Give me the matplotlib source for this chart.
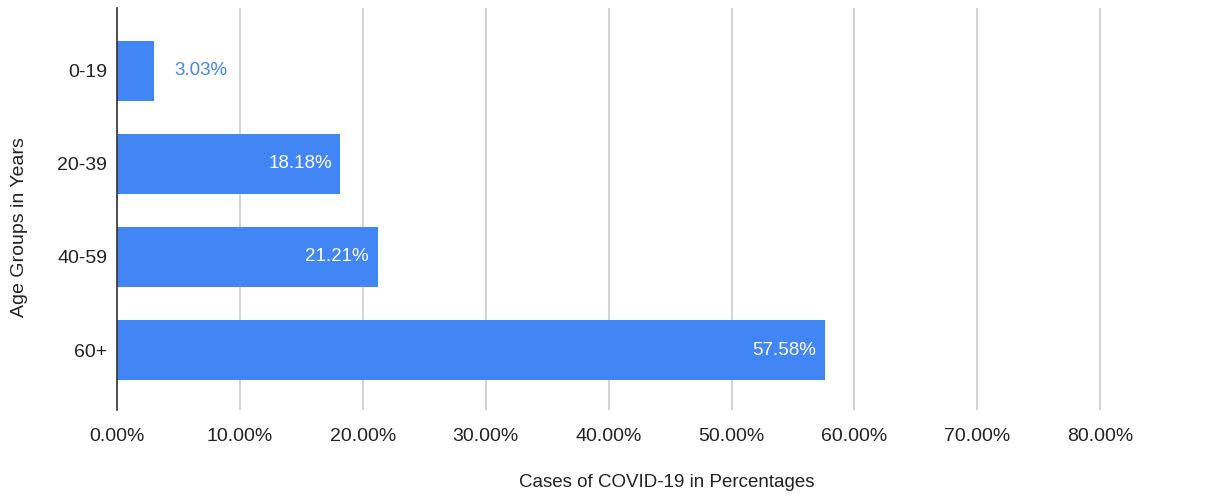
import matplotlib.pyplot as plt
from matplotlib.ticker import FuncFormatter

# data
age_groups = ['60+', '40-59', '20-39', '0-19']
percentages = [57.58, 21.21, 18.18, 3.03]
x_ticks = [0, 10, 20, 30, 40, 50, 60, 70, 80]

BLUE = '#4285f4'
TXT = '#222222'

def main():
    plt.rcParams['font.family'] = ['Liberation Sans', 'DejaVu Sans']
    fig = plt.figure(figsize=(12.17, 4.97), dpi=100)
    ax = fig.add_axes([117 / 1217, 1 - 410 / 497, (1217 - 117) / 1217, 402 / 497])

    ypos = list(range(len(age_groups)))
    ax.barh(ypos, percentages, height=0.645, color=BLUE, zorder=3)

    for y, v in zip(ypos, percentages):
        label = '%.2f%%' % v
        if v < 8:
            ax.text(v + 1.6, y, label, color=BLUE, fontsize=13.5,
                    va='center', ha='left', zorder=4)
        else:
            ax.text(v - 0.7, y, label, color='white', fontsize=13.5,
                    va='center', ha='right', zorder=4)

    ax.set_xlim(0, 89.5)
    ax.set_ylim(-0.645, 3.677)
    ax.set_xticks(x_ticks)
    ax.xaxis.set_major_formatter(FuncFormatter(lambda v, p: '%.2f%%' % v))
    ax.set_yticks(ypos)
    ax.set_yticklabels(age_groups)
    ax.tick_params(axis='both', length=0, labelsize=14, colors=TXT)
    ax.tick_params(axis='x', pad=13)
    ax.tick_params(axis='y', pad=7)

    ax.grid(axis='x', color='#cccccc', linewidth=1.2, zorder=0)
    ax.grid(axis='y', visible=False)
    for s in ['top', 'right', 'bottom']:
        ax.spines[s].set_visible(False)
    ax.spines['left'].set_color('#333333')
    ax.spines['left'].set_linewidth(1.2)
    ax.spines['left'].set_zorder(5)

    ax.set_xlabel('Cases of COVID-19 in Percentages', fontsize=13.5,
                  color=TXT, labelpad=21)
    ax.set_ylabel('Age Groups in Years', fontsize=14, color=TXT)
    ax.yaxis.set_label_coords(28 / 1217, 1 - 227 / 497, transform=fig.transFigure)

    fig.savefig('out.png', dpi=100)


if __name__ == '__main__':
    main()
